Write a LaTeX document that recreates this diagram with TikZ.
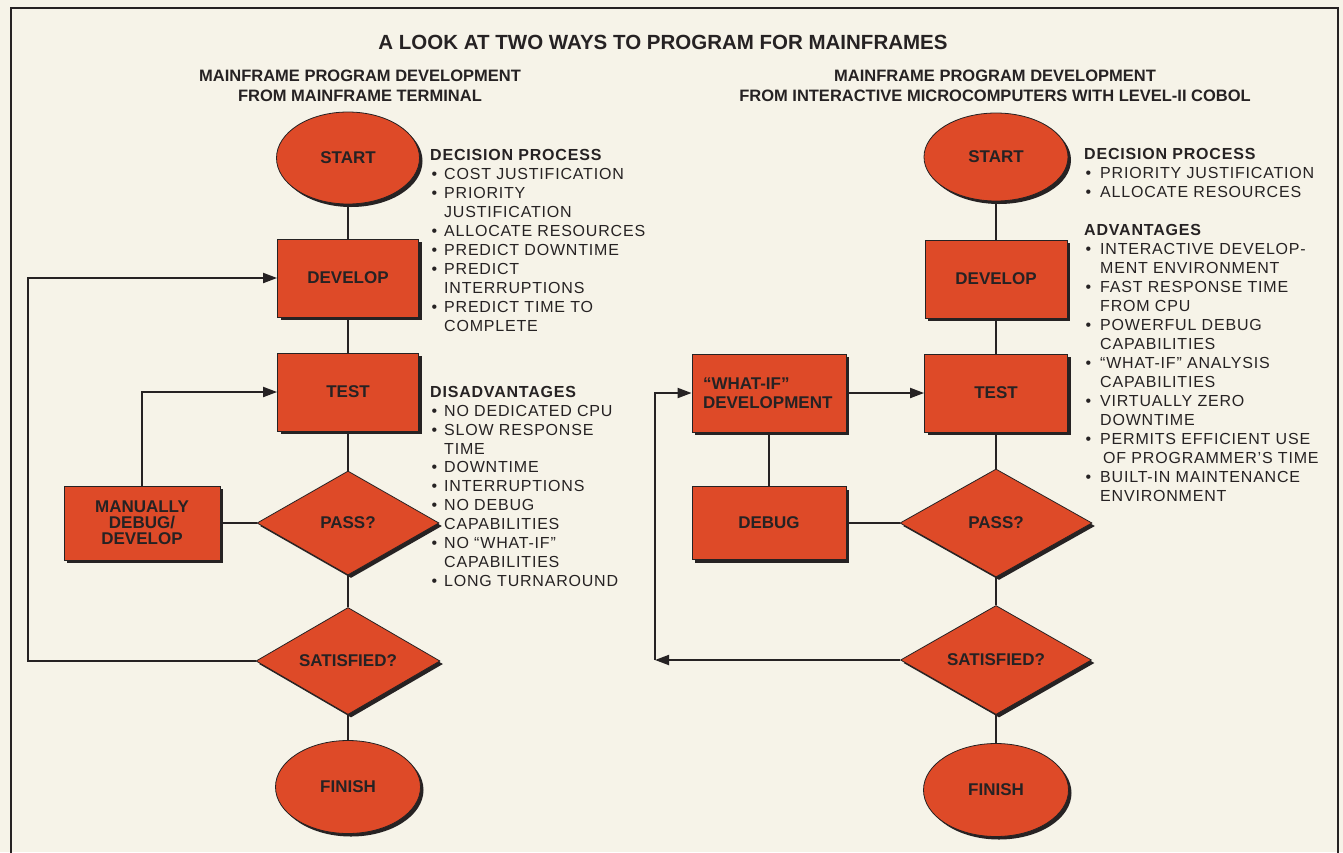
\documentclass[tikz,border=0pt]{standalone}
\usepackage{fontspec}
\setmainfont{Liberation Sans}
\newfontfamily\listfont[LetterSpace=5]{Liberation Sans}
\usetikzlibrary{shapes.geometric,shadows,arrows.meta}
\definecolor{bg}{HTML}{F6F3E8}
\definecolor{fillc}{HTML}{DE4A28}
\definecolor{ink}{HTML}{262223}
\newcommand\bulL{\makebox[14pt][l]{\hspace{1.5pt}•}}
\newcommand\indL{\hspace*{14pt}}
\newcommand\bulR{\makebox[16pt][l]{\hspace{1.5pt}•}}
\newcommand\indR{\hspace*{16pt}}
\tikzset{
  flow/.style={draw=ink, line width=0.8pt, fill=fillc, text=ink, inner sep=0pt,
    font=\fontsize{17}{19}\selectfont\bfseries,
    drop shadow={shadow xshift=3pt, shadow yshift=-3pt, fill=ink, opacity=1}},
  term/.style={flow, ellipse, minimum width=143pt, minimum height=92pt},
  proc/.style={flow, rectangle, minimum width=141pt, minimum height=78pt},
  dec/.style={flow, diamond, aspect=1.75, minimum width=184pt, minimum height=106pt},
  conn/.style={draw=ink, line width=1.9pt},
  arr/.style={conn, -{Triangle[length=14pt,width=10pt]}},
  head/.style={text=ink, inner sep=0pt, font=\fontsize{16.5}{20}\selectfont\bfseries, align=center},
  listtext/.style={text=ink, inner sep=0pt, anchor=north west, align=left,
    font=\listfont\fontsize{16}{19}\selectfont},
}
\begin{document}
\begin{tikzpicture}[x=1pt,y=-1pt]
\useasboundingbox (0,0) rectangle (1343,852);
\fill[bg] (0,0) rectangle (1343,852);
\draw[ink, line width=2pt] (11,860) -- (11,8) -- (1338,8) -- (1338,860);

% titles
\node[text=ink, inner sep=0pt, font=\fontsize{20.5}{24}\selectfont\bfseries] (title) at (663,42)
  {A LOOK AT TWO WAYS TO PROGRAM FOR MAINFRAMES};
\node[head] (subL) at (360,86) {MAINFRAME PROGRAM DEVELOPMENT\\FROM MAINFRAME TERMINAL};
\node[head] (subR) at (995,86) {MAINFRAME PROGRAM DEVELOPMENT\\FROM INTERACTIVE MICROCOMPUTERS WITH LEVEL-II COBOL};

% left flowchart
\node[term] (startL) at (348,158) {START};
\node[proc] (devL) at (348,278) {DEVELOP};
\node[proc] (testL) at (348,392) {TEST};
\node[dec, minimum width=182pt, minimum height=104pt] (passL) at (348,523) {PASS?};
\node[dec, minimum height=107pt] (satL) at (348,661) {SATISFIED?};
\node[term, minimum width=145pt, minimum height=93pt] (finL) at (348,787) {FINISH};
\node[proc, minimum width=156pt, minimum height=74pt, align=center, font=\fontsize{17}{16}\selectfont\bfseries] (manL) at (142,523) {MANUALLY\\DEBUG/\\DEVELOP};

\draw[conn] (startL.south) -- (devL.north);
\draw[conn] (devL.south) -- (testL.north);
\draw[conn] (testL.south) -- (passL.north);
\draw[conn] (passL.south) -- (satL.north);
\draw[conn] (satL.south) -- (finL.north);
\draw[conn] (manL.east) -- (passL.west);
\draw[arr] (manL.north) |- (testL.west);
\coordinate (loopL) at (28,661);
\draw[arr] (satL.west) -- (loopL) |- (devL.west);

% right flowchart
\node[term, minimum width=144pt, minimum height=88pt] (startR) at (996,157) {START};
\node[proc, minimum width=142pt] (devR) at (996,279) {DEVELOP};
\node[proc, minimum width=143pt] (testR) at (996,393) {TEST};
\node[proc, minimum width=154pt, text width=132pt, align=left] (whatR) at (769,393) {“WHAT-IF”\\DEVELOPMENT};
\node[proc, minimum width=154pt, minimum height=73pt] (debugR) at (769,523) {DEBUG};
\node[dec, minimum width=192pt, minimum height=108pt] (passR) at (996,523) {PASS?};
\node[dec, minimum width=191pt, minimum height=109pt] (satR) at (996,660) {SATISFIED?};
\node[term, minimum width=145pt, minimum height=93pt] (finR) at (996,790) {FINISH};

\draw[conn] (startR.south) -- (devR.north);
\draw[conn] (devR.south) -- (testR.north);
\draw[conn] (testR.south) -- (passR.north);
\draw[conn] (passR.south) -- (satR.north);
\draw[conn] (satR.south) -- (finR.north);
\draw[conn] (whatR.south) -- (debugR.north);
\draw[conn] (debugR.east) -- (passR.west);
\draw[arr] (whatR.east) -- (testR.west);
\coordinate (loopR) at (655,660);
\draw[arr] (satR.west) -- (loopR);
\draw[arr] (loopR) |- (whatR.west);

% lists
\node[listtext] (decL) at (430,149.5) {\textbf{DECISION PROCESS}\\
\bulL COST JUSTIFICATION\\
\bulL PRIORITY\\
\indL JUSTIFICATION\\
\bulL ALLOCATE RESOURCES\\
\bulL PREDICT DOWNTIME\\
\bulL PREDICT\\
\indL INTERRUPTIONS\\
\bulL PREDICT TIME TO\\
\indL COMPLETE};
\node[listtext, font=\listfont\fontsize{16}{18.9}\selectfont] (disL) at (430,386) {\textbf{DISADVANTAGES}\\
\bulL NO DEDICATED CPU\\
\bulL SLOW RESPONSE\\
\indL TIME\\
\bulL DOWNTIME\\
\bulL INTERRUPTIONS\\
\bulL NO DEBUG\\
\indL CAPABILITIES\\
\bulL NO “WHAT-IF”\\
\indL CAPABILITIES\\
\bulL LONG TURNAROUND};
\node[listtext] (advR) at (1084,148.2) {\textbf{DECISION PROCESS}\\
\bulR PRIORITY JUSTIFICATION\\
\bulR ALLOCATE RESOURCES\\[19pt]
\textbf{ADVANTAGES}\\
\bulR INTERACTIVE DEVELOP-\\
\indR MENT ENVIRONMENT\\
\bulR FAST RESPONSE TIME\\
\indR FROM CPU\\
\bulR POWERFUL DEBUG\\
\indR CAPABILITIES\\
\bulR “WHAT-IF” ANALYSIS\\
\indR CAPABILITIES\\
\bulR VIRTUALLY ZERO\\
\indR DOWNTIME\\
\bulR PERMITS EFFICIENT USE\\
\indR \hspace*{3pt}OF PROGRAMMER’S TIME\\
\bulR BUILT-IN MAINTENANCE\\
\indR ENVIRONMENT};
\end{tikzpicture}
\end{document}
